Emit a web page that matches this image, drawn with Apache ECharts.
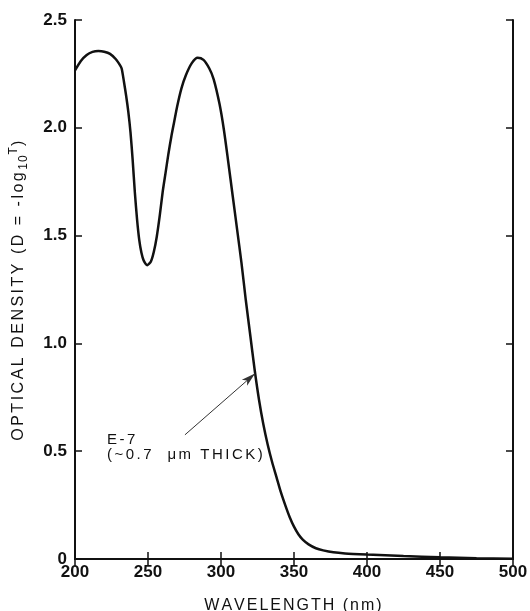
<!DOCTYPE html>
<html>
<head>
<meta charset="utf-8">
<script src="https://cdn.jsdelivr.net/npm/echarts@6/dist/echarts.min.js"></script>
<style>
  html, body { margin: 0; padding: 0; background: #fff; }
  #chart { width: 530px; height: 611px; }
</style>
</head>
<body>
<div id="chart"></div>
<script>
// wavelength (nm) and optical density
const wavelength = [200, 204, 208, 212, 216, 220, 224, 228, 231, 232, 233.5, 235, 236.5, 238, 239.5, 241, 242.5, 244, 245.5, 247,
  249.5, 252, 254, 256, 258, 260, 262, 264, 266, 268, 270, 273, 276, 280, 284, 288, 292, 295, 299, 302,
  305, 308, 311, 314, 317, 320, 323, 326, 329, 332, 335, 338, 341, 344, 347, 350, 353, 356, 360, 365,
  370, 377, 385, 400, 425, 450, 475, 500]
const density = [2.266, 2.31, 2.338, 2.352, 2.356, 2.353, 2.343, 2.318, 2.288, 2.274, 2.215, 2.15, 2.075, 1.98, 1.85, 1.70, 1.575, 1.48, 1.42, 1.385,
  1.363, 1.38, 1.425, 1.495, 1.59, 1.70, 1.79, 1.88, 1.96, 2.03, 2.10, 2.185, 2.245, 2.30, 2.325, 2.315, 2.275, 2.225, 2.11, 1.99,
  1.84, 1.685, 1.53, 1.375, 1.2, 1.04, 0.88, 0.74, 0.625, 0.53, 0.45, 0.38, 0.31, 0.25, 0.195, 0.15, 0.115, 0.09, 0.068, 0.05,
  0.04, 0.031, 0.026, 0.021, 0.014, 0.008, 0.004, 0.001]

const xTickLabels = ['200', '250', '300', '350', '400', '450', '500']
const yTickLabels = ['0', '0.5', '1.0', '1.5', '2.0', '2.5']

// arrow from the label to the curve: [wavelength, density]
const arrowFrom = [275.3, 0.576]
const arrowTo = [323.3, 0.86]

const labelLines = ['E-7', '(~0.7  μm THICK)']

const ink = '#111'
const font = '"Liberation Sans", Arial, Helvetica, sans-serif'

// the original lettering is widely spaced, so every character gets its own rich fragment
const tracked = (str, key) => str.split('').map(ch => '{' + key + '|' + ch + '}').join('')

const chart = echarts.init(document.getElementById('chart'))

const boxAxis = {
  type: 'value',
  axisLine: { show: true, lineStyle: { color: ink, width: 2 } },
  axisTick: { show: true, inside: true, length: 7, lineStyle: { color: ink, width: 1.5 } },
  splitLine: { show: false }
}

chart.setOption({
  backgroundColor: '#fff',
  animation: false,
  grid: { left: 75, right: 17, top: 20, bottom: 52, outerBoundsMode: 'none' },
  xAxis: [{
    ...boxAxis,
    min: 200, max: 500, interval: 50,
    position: 'bottom',
    axisLabel: {
      color: ink, fontSize: 17, fontWeight: 'bold', fontFamily: font, margin: 5,
      formatter: (v) => xTickLabels[Math.round((v - 200) / 50)]
    },
    name: tracked('WAVELENGTH (nm)', 't'),
    nameLocation: 'middle',
    nameGap: 39,
    nameTextStyle: {
      color: ink, fontSize: 16, fontFamily: font,
      rich: { t: { fontSize: 16, fontFamily: font, color: ink, padding: [0, 2, 0, 0] } }
    }
  }, {
    ...boxAxis,
    min: 200, max: 500, interval: 50,
    position: 'top',
    axisLabel: { show: false }
  }],
  yAxis: [{
    ...boxAxis,
    min: 0, max: 2.5, interval: 0.5,
    position: 'left',
    axisLabel: {
      color: ink, fontSize: 17, fontWeight: 'bold', fontFamily: font, margin: 8,
      formatter: (v) => yTickLabels[Math.round(v / 0.5)]
    },
    name: tracked('OPTICAL DENSITY (D = -log', 'a') + tracked('10', 'b') + tracked('T', 'c') + tracked(')', 'a'),
    nameLocation: 'middle',
    nameGap: 45,
    nameTextStyle: {
      color: ink, fontFamily: font,
      rich: {
        a: { fontSize: 16, fontFamily: font, color: ink, lineHeight: 22, verticalAlign: 'middle', padding: [0, 2.5, 0, 0] },
        b: { fontSize: 12, fontFamily: font, color: ink, lineHeight: 22, verticalAlign: 'bottom', padding: [0, 1, 0, 0] },
        c: { fontSize: 12, fontFamily: font, color: ink, lineHeight: 22, verticalAlign: 'top', padding: [0, 1, 0, 0] }
      }
    }
  }, {
    ...boxAxis,
    min: 0, max: 2.5, interval: 0.5,
    position: 'right',
    axisLabel: { show: false }
  }],
  series: [{
    type: 'line',
    data: wavelength.map((w, i) => [w, density[i]]),
    showSymbol: false,
    smooth: 0.25,
    lineStyle: { color: ink, width: 2.5 },
    markLine: {
      silent: true,
      symbol: ['none', 'arrow'],
      symbolSize: [6, 14],
      label: { show: false },
      lineStyle: { color: '#333', width: 1, type: 'solid' },
      data: [[{ coord: arrowFrom }, { coord: arrowTo }]]
    }
  }],
  graphic: [{
    type: 'text',
    left: 107,
    top: 432,
    style: {
      text: labelLines.map(l => tracked(l, 't')).join('\n'),
      fill: ink,
      font: '15px ' + font,
      rich: { t: { font: '15px ' + font, fill: ink, lineHeight: 15, padding: [0, 2.5, 0, 0] } }
    }
  }]
})
</script>
</body>
</html>
